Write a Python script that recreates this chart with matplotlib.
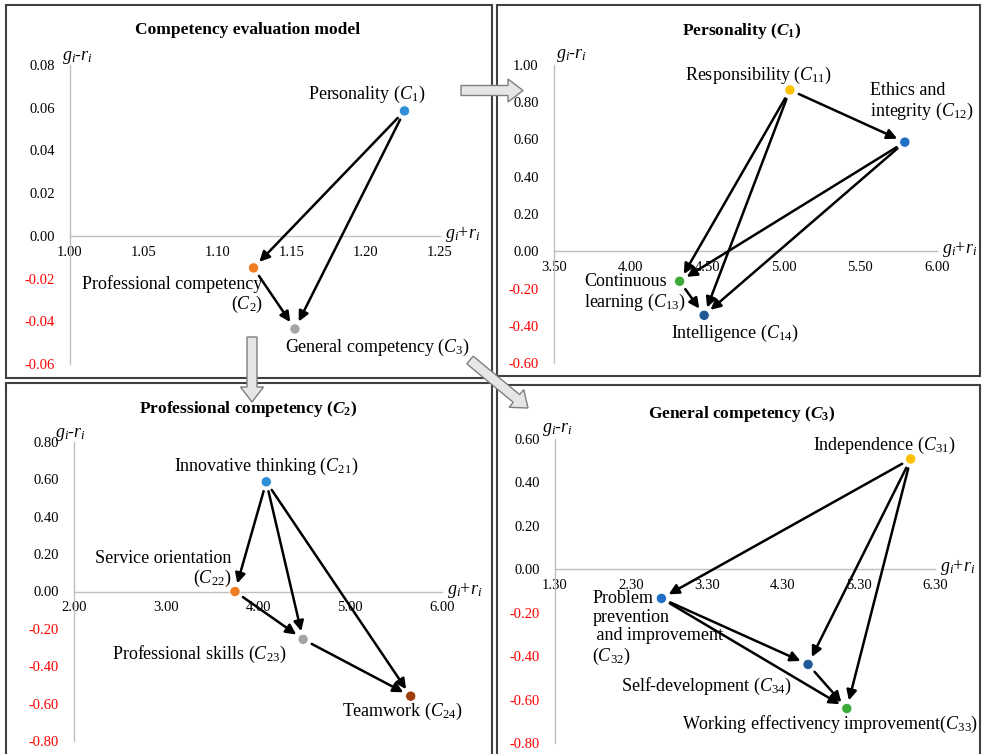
import matplotlib
matplotlib.use("Agg")
import matplotlib.pyplot as plt
from matplotlib.patches import Rectangle, FancyArrow
from matplotlib.transforms import IdentityTransform

plt.rcParams["font.family"] = "Liberation Serif"
plt.rcParams["mathtext.fontset"] = "custom"
plt.rcParams["mathtext.rm"] = "Liberation Serif"
plt.rcParams["mathtext.it"] = "Liberation Serif:italic"
plt.rcParams["mathtext.bf"] = "Liberation Serif:bold"
plt.rcParams["mathtext.bfit"] = "Liberation Serif:italic:bold"

W, H = 982, 754

# ================== DATA ==================

# competency evaluation model
c_names = ["Personality ($C_1$)", "Professional competency\n($C_2$)",
           "General competency ($C_3$)"]
c_sum = [1.226, 1.124, 1.152]
c_diff = [0.0585, -0.015, -0.0436]
c_links = [(0, 1), (0, 2), (1, 2)]
c_xticks = [1.00, 1.05, 1.10, 1.15, 1.20, 1.25]
c_yticks = [-0.06, -0.04, -0.02, 0.00, 0.02, 0.04, 0.06, 0.08]

# personality C1
p_names = ["Responsibility ($C_{11}$)", "Ethics and\nintegrity ($C_{12}$)",
           "Continuous\nlearning ($C_{13}$)", "Intelligence ($C_{14}$)"]
p_sum = [5.04, 5.79, 4.32, 4.48]
p_diff = [0.866, 0.586, -0.161, -0.344]
p_links = [(0, 1), (0, 2), (0, 3), (1, 2), (1, 3), (2, 3)]
p_xticks = [3.50, 4.00, 4.50, 5.00, 5.50, 6.00]
p_yticks = [-0.60, -0.40, -0.20, 0.00, 0.20, 0.40, 0.60, 0.80, 1.00]

# professional competency C2
q_names = ["Innovative thinking ($C_{21}$)", "Service orientation\n($C_{22}$)",
           "Professional skills ($C_{23}$)", "Teamwork ($C_{24}$)"]
q_sum = [4.09, 3.75, 4.49, 5.66]
q_diff = [0.587, 0.0, -0.256, -0.56]
q_links = [(0, 1), (0, 2), (0, 3), (1, 2), (2, 3)]
q_xticks = [2.00, 3.00, 4.00, 5.00, 6.00]
q_yticks = [-0.80, -0.60, -0.40, -0.20, 0.00, 0.20, 0.40, 0.60, 0.80]

# general competency C3
g_names = ["Independence ($C_{31}$)",
           "Problem\nprevention\n and improvement\n($C_{32}$)",
           "Working effectivency improvement($C_{33}$)",
           "Self-development ($C_{34}$)"]
g_sum = [5.98, 2.70, 5.14, 4.63]
g_diff = [0.508, -0.134, -0.641, -0.438]
g_links = [(0, 1), (0, 3), (0, 2), (1, 3), (1, 2), (3, 2)]
g_xticks = [1.30, 2.30, 3.30, 4.30, 5.30, 6.30]
g_yticks = [-0.80, -0.60, -0.40, -0.20, 0.00, 0.20, 0.40, 0.60]

# ================== STYLE ==================

BLUE = "#2E8FD6"
ORANGE = "#F07C22"
GRAY = "#A5A5A5"
YELLOW = "#FFC000"
BLUE2 = "#1F6FC8"
GREEN = "#3DAA3A"
NAVY = "#1F5A96"
BROWN = "#9E3E0A"

fig = plt.figure(figsize=(W / 100, H / 100), dpi=100)


def px_axes(x0, x1, y0, y1):
    # plot area given in image pixels (left, right, top, bottom)
    return fig.add_axes([x0 / W, 1 - y1 / H, (x1 - x0) / W, (y1 - y0) / H])


def draw_panel(ax, xs, ys, names, colors, links, xticks, yticks,
               label_pos, ylab_off):
    ax.set_facecolor("none")
    ax.set_xlim(xticks[0], xticks[-1])
    ax.set_ylim(yticks[0], yticks[-1])
    ax.spines["top"].set_visible(False)
    ax.spines["right"].set_visible(False)
    ax.spines["bottom"].set_position(("data", 0))
    for s in ["left", "bottom"]:
        ax.spines[s].set_color("#BFBFBF")
        ax.spines[s].set_linewidth(1.0)

    ax.set_xticks(xticks)
    ax.set_xticklabels([f"{v:.2f}" for v in xticks])
    ax.set_yticks(yticks)
    ax.set_yticklabels([f"{v:.2f}" for v in yticks])
    for lab, v in zip(ax.get_yticklabels(), yticks):
        lab.set_color("red" if v < 0 else "black")
    ax.tick_params(length=0, labelsize=10.5)
    ax.tick_params(axis="y", pad=11)
    ax.tick_params(axis="x", pad=7)

    for i, j in links:
        ax.annotate("", xy=(xs[j], ys[j]), xytext=(xs[i], ys[i]),
                    arrowprops=dict(arrowstyle="-|>", color="black", lw=1.8,
                                    shrinkA=7, shrinkB=6, mutation_scale=15),
                    zorder=3)
    ax.scatter(xs, ys, c=colors, s=55, zorder=5, clip_on=False,
               edgecolors="white", linewidths=0.6)

    for x, y, name, (dx, dy, ha, va, ma) in zip(xs, ys, names, label_pos):
        ax.annotate(name, (x, y), xytext=(dx, dy), textcoords="offset pixels",
                    ha=ha, va=va, multialignment=ma,
                    fontsize=13, linespacing=1.1, zorder=6)

    ax.annotate(r"$g_i$-$r_i$", (0, 1), xycoords="axes fraction",
                xytext=ylab_off, textcoords="offset pixels",
                ha="left", va="center", fontsize=13)
    ax.annotate(r"$g_i$+$r_i$", (1, 0), xycoords=("axes fraction", "data"),
                xytext=(5, 2), textcoords="offset pixels",
                ha="left", va="center", fontsize=13)


# panel frames
for x0, y0, x1, y1 in [(6, 5, 492, 378), (497, 5, 980, 376),
                       (6, 383, 492, 760), (497, 385, 980, 760)]:
    fig.add_artist(Rectangle((x0 / W, 1 - y1 / H), (x1 - x0) / W, (y1 - y0) / H,
                             transform=fig.transFigure, fill=False,
                             edgecolor="#404040", lw=1.5, zorder=0))

ax1 = px_axes(70, 440, 65, 364)
draw_panel(ax1, c_sum, c_diff, c_names, [BLUE, ORANGE, GRAY], c_links,
           c_xticks, c_yticks,
           [(-38, 16, "center", "center", "center"),
            (9, -27, "right", "center", "right"),
            (-10, -18, "left", "center", "left")], (-8, 7))

ax2 = px_axes(554, 937, 65, 363)
draw_panel(ax2, p_sum, p_diff, p_names, [YELLOW, BLUE2, GREEN, NAVY], p_links,
           p_xticks, p_yticks,
           [(-32, 15, "center", "center", "center"),
            (-35, 40, "left", "center", "left"),
            (6, -12, "right", "center", "left"),
            (31, -18, "center", "center", "center")], (2, 10))

ax3 = px_axes(74, 442, 442, 741)
draw_panel(ax3, q_sum, q_diff, q_names, [BLUE, ORANGE, GRAY, BROWN], q_links,
           q_xticks, q_yticks,
           [(0, 15, "center", "center", "center"),
            (-4, 22, "right", "center", "right"),
            (-17, -15, "right", "center", "right"),
            (-8, -15, "center", "center", "center")], (-19, 7))

ax4 = px_axes(555, 935, 439, 743)
draw_panel(ax4, g_sum, g_diff, g_names, [YELLOW, BLUE2, GREEN, NAVY], g_links,
           g_xticks, g_yticks,
           [(-26, 14, "center", "center", "center"),
            (-69, 8, "left", "top", "left"),
            (-17, -16, "center", "center", "center"),
            (-16, -22, "right", "center", "right")], (-13, 9))

# panel titles
titles = ["Competency evaluation model", r"Personality ($\mathbfit{C}_\mathbf{1}$)",
          r"Professional competency ($\mathbfit{C}_\mathbf{2}$)",
          r"General competency ($\mathbfit{C}_\mathbf{3}$)"]
for t, (x, y) in zip(titles, [(248, 30), (742, 31), (248, 409), (742, 414)]):
    fig.text(x / W, 1 - y / H, t, ha="center", va="center",
             fontsize=12.5, fontweight="bold")

# block arrows between panels (image pixels, dy measured downwards)
for x, y, dx, dy in [(461, 90.5, 62, 0), (252, 337, 0, 65), (470, 360, 58, 48)]:
    fig.add_artist(FancyArrow(x, H - y, dx, -dy, width=10, head_width=23,
                              head_length=15, length_includes_head=True,
                              transform=IdentityTransform(), facecolor="#E6E6E6",
                              edgecolor="#7F7F7F", lw=1.0, zorder=10))

fig.savefig("out.png", dpi=100)
